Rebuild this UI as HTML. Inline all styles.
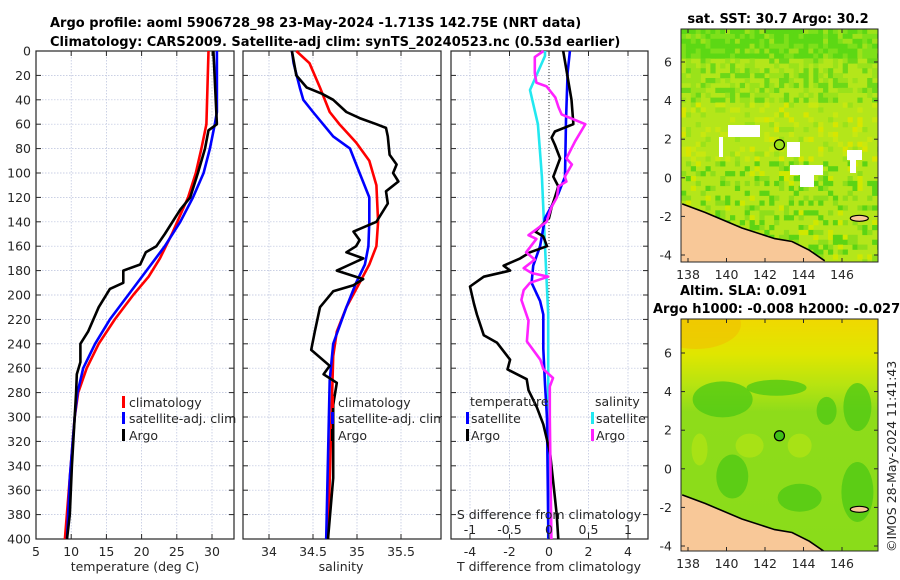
<!DOCTYPE html>
<html><head><meta charset="utf-8"><style>
html,body{margin:0;padding:0;background:#fff;}
svg{display:block;font-family:"DejaVu Sans","Liberation Sans",sans-serif;}
.tk{font-size:12.5px;fill:#262626;}
.ti{font-size:13px;font-weight:bold;fill:#000;}
</style></head><body>
<svg id="fig" width="900" height="580" viewBox="0 0 900 580">
<text class="ti" x="50" y="27">Argo profile: aoml 5906728_98 23-May-2024 -1.713S 142.75E (NRT data)</text>
<text class="ti" x="50" y="46">Climatology: CARS2009. Satellite-adj clim: synTS_20240523.nc (0.53d earlier)</text>
<text class="ti" x="778" y="23" text-anchor="middle">sat. SST: 30.7 Argo: 30.2</text>
<text class="ti" x="680" y="295">Altim. SLA: 0.091</text>
<text class="ti" x="653" y="313">Argo h1000: -0.008 h2000: -0.027</text>
<text class="tk" transform="translate(896,552) rotate(-90)">©IMOS 28-May-2024 11:41:43</text>
<g id="plots"></g>
</svg>
<script>
// ---- data ----
const depthTArgo=[0,60,65,80,100,120,130,150,160,165,175,180,190,195,210,230,240,255,265,280,300,340,380,400];
const tempArgo=[30.2,30.7,29.5,29,28,26.9,25.5,23.3,22.1,20.6,19.8,17.4,17.4,15.5,13.9,12.4,11.3,11.3,10.8,10.7,10.5,10.1,9.8,9.4];
const depthTClim=[0,60,80,100,120,150,170,185,200,220,240,260,280,300,350,400];
const tempClim=[29.5,29.2,28.5,27.7,26.6,24.3,22.6,21,18.8,16.2,13.9,12.2,11,10.5,9.8,9.1];
const depthTSat=[0,50,60,80,100,120,140,160,180,200,220,240,260,280,300,350,400];
const tempSat=[30.7,30.7,30.4,29.7,28.8,27.3,25.5,23.3,20.7,18.1,15.5,13.4,11.7,10.9,10.5,9.8,9.4];
const depthSArgo=[0,20,30,35,40,50,55,60,63,70,85,93,100,107,115,125,140,148,155,160,165,170,175,180,187,192,197,210,230,245,258,265,272,290,350,400];
const salArgo=[34.26,34.31,34.43,34.6,34.73,34.88,35.03,35.22,35.33,35.35,35.37,35.45,35.41,35.47,35.33,35.35,35.22,34.96,35.03,34.99,34.88,35.07,34.92,34.77,35.07,34.96,34.73,34.58,34.52,34.48,34.69,34.62,34.77,34.73,34.73,34.67];
const depthSClim=[0,10,30,50,60,75,90,110,140,160,175,190,210,230,250,300,400];
const salClim=[34.31,34.46,34.58,34.69,34.8,34.99,35.14,35.22,35.24,35.22,35.14,35.03,34.88,34.77,34.73,34.71,34.67];
const depthSSat=[0,10,30,40,50,70,80,100,120,140,160,175,190,210,240,270,400];
const salSat=[34.26,34.28,34.35,34.39,34.5,34.73,34.92,35.03,35.14,35.14,35.13,35.09,34.99,34.88,34.73,34.69,34.65];
const depthDTArgo=[0,40,59,60,66,71,77,88,103,111,120,128,137,148,152,160,165,170,176,180,185,193,207,216,233,239,253,261,269,278,292,306,329,366,380,400];
const dTArgo=[0.72,1.14,1.23,1.23,0.3,0.13,0.3,0.56,0.22,0.47,0.3,0.13,0,-0.7,-0.29,-0.1,-0.96,-1.46,-2.3,-1.97,-3.3,-4,-3.8,-3.65,-3.3,-2.64,-1.97,-2.1,-1.13,-1.04,-0.62,-0.29,0.05,0.3,0.39,0.47];
const depthDTSat=[0,18,57,103,117,137,160,176,190,205,216,244,273,301,400];
const dTSat=[1.06,0.94,0.86,0.81,0.47,-0.2,-0.45,-0.8,-0.88,-0.45,-0.29,-0.29,-0.2,-0.1,-0.03];
const depthDSSat=[0,4,32,60,103,160,216,400];
const dSSat=[-0.05,-0.05,-0.24,-0.14,-0.09,-0.05,-0.01,-0.01];
const depthDSArgo=[0,5,18,26,29,38,46,52,60,74,88,93,103,107,111,120,128,140,151,154,165,171,178,182,185,190,196,204,221,238,253,261,268,275,300,400];
const dSArgo=[-0.07,-0.18,-0.18,-0.16,-0.03,0.08,0.12,0.16,0.46,0.33,0.22,0.29,0.2,0.22,0.12,0.1,0.03,-0.03,-0.26,-0.16,-0.29,-0.18,-0.32,-0.22,-0.01,-0.24,-0.32,-0.35,-0.26,-0.28,-0.11,-0.07,0.05,0.01,0.01,0.03];
const depthTicks=[0,20,40,60,80,100,120,140,160,180,200,220,240,260,280,300,320,340,360,380,400];
const tempTicks=[5,10,15,20,25,30];
const salTicks=[34,34.5,35,35.5];
const dTTicks=[-4,-2,0,2,4];
const dSTicks=[-1,-0.5,0,0.5,1];
const lonTicks=[138,140,142,144,146];
const latTicks=[-4,-2,0,2,4,6];
const argoLon=142.75, argoLat=1.713;

// ---- helpers ----
const NS="http://www.w3.org/2000/svg";
const root=document.getElementById('plots');
function mk(tag,attrs,parent){const e=document.createElementNS(NS,tag);for(const k in attrs)e.setAttribute(k,attrs[k]);(parent||root).appendChild(e);return e;}
const Y0=51,Y1=539;
function yD(d){return Y0+d*(Y1-Y0)/400;}
function lin(d0,d1,r0,r1){return v=>r0+(v-d0)*(r1-r0)/(d1-d0);}
const xT=lin(5,30,36,212), xS=lin(34,35.5,269,401), xDT=lin(-4,4,470,628), xDS=lin(-1,1,470,628);
function frame(x0,x1,xs,ticks,fmt,name,labels){
  const g=mk('g',{});
  
  
  depthTicks.forEach(d=>{const l=mk('line',{x1:x0,x2:x1,y1:yD(d),y2:yD(d),stroke:'#b8c0dc','stroke-width':0.7,'stroke-dasharray':'1.5,1.5'},g);
    mk('line',{x1:x0,x2:x0+5,y1:yD(d),y2:yD(d),stroke:'#262626'},g);mk('line',{x1:x1-5,x2:x1,y1:yD(d),y2:yD(d),stroke:'#262626'},g);
    if(labels){const t=mk('text',{x:31,y:yD(d)+4.5,'text-anchor':'end',class:'tk'},g);t.textContent=d;}});
  ticks.forEach(v=>{const x=xs(v);mk('line',{x1:x,x2:x,y1:Y0,y2:Y1,stroke:'#b8c0dc','stroke-width':0.7,'stroke-dasharray':'1.5,1.5'},g);
    mk('line',{x1:x,x2:x,y1:Y1-5,y2:Y1,stroke:'#262626'},g);mk('line',{x1:x,x2:x,y1:Y0,y2:Y0+5,stroke:'#262626'},g);
    const t=mk('text',{x:x,y:Y1+17,'text-anchor':'middle',class:'tk'},g);t.textContent=fmt(v);});
  mk('rect',{x:x0,y:Y0,width:x1-x0,height:Y1-Y0,fill:'none',stroke:'#262626','stroke-width':1.2},g);
  return g;
}
function line(xs,vals,depths,color,name,w){
  const p=mk('polyline',{points:vals.map((v,i)=>xs(v).toFixed(1)+','+yD(depths[i]).toFixed(1)).join(' '),fill:'none',stroke:color,'stroke-width':w||2.6,'stroke-linejoin':'round'});
  
  
}
function text(x,y,s,name,anchor){const t=mk('text',{x:x,y:y,class:'tk','text-anchor':anchor||'start'});t.textContent=s;return t;}
function legMark(x,y,c){const r=mk('rect',{x:x,y:y-10,width:3,height:12,fill:c});}

// ---- panel 1: temperature ----
frame(36,234,xT,tempTicks,v=>v,'temperature-axes',true);
line(xT,tempClim,depthTClim,'#ff0000','temperature-climatology-line');
line(xT,tempSat,depthTSat,'#0000ff','temperature-satellite-line');
line(xT,tempArgo,depthTArgo,'#000000','temperature-argo-line');
text(135,571,'temperature (deg C)','temperature-axis-title','middle');
legMark(122,406,'#ff0000');text(129,407,'climatology','legend-climatology');
legMark(122,422,'#0000ff');text(129,423,'satellite-adj. clim','legend-satellite-adj');
legMark(122,439,'#000000');text(129,440,'Argo','legend-argo');

// ---- panel 2: salinity ----
frame(243,441,xS,salTicks,v=>v,'salinity-axes',false);
line(xS,salClim,depthSClim,'#ff0000','salinity-climatology-line');
line(xS,salSat,depthSSat,'#0000ff','salinity-satellite-line');
line(xS,salArgo,depthSArgo,'#000000','salinity-argo-line');
text(341,571,'salinity','salinity-axis-title','middle');
legMark(331,406,'#ff0000');text(338,407,'climatology','legend-climatology-2');
legMark(331,422,'#0000ff');text(338,423,'satellite-adj. clim','legend-satellite-adj-2');
legMark(331,439,'#000000');text(338,440,'Argo','legend-argo-2');

// ---- panel 3: differences ----
mk('rect',{x:442,y:Y0,width:207,height:Y1-Y0,fill:'#fff'});
frame(451,648,xDT,dTTicks,v=>v,'difference-axes',false);
mk('line',{x1:xDT(0),x2:xDT(0),y1:Y0,y2:Y1,stroke:'#333','stroke-width':1,'stroke-dasharray':'1,2'});
line(xDS,dSSat,depthDSSat,'#22e8f0','salinity-diff-satellite-line');
line(xDT,dTSat,depthDTSat,'#0000ff','temperature-diff-satellite-line');
line(xDT,dTArgo,depthDTArgo,'#000000','temperature-diff-argo-line');
line(xDS,dSArgo,depthDSArgo,'#ff22ff','salinity-diff-argo-line');
text(549,571,'T difference from climatology','t-diff-axis-title','middle');
text(549,519,'S difference from climatology','s-diff-axis-title','middle');
dSTicks.forEach(v=>{const x=xDS(v);text(x,534,String(v),'s-diff-tick-label','middle');mk('line',{x1:x,x2:x,y1:Y1-5,y2:Y1,stroke:'#262626'});});
text(470,406,'temperature','legend-temperature-header');
legMark(466,422,'#0000ff');text(471,423,'satellite','legend-t-satellite');
legMark(466,439,'#000000');text(471,440,'Argo','legend-t-argo');
text(595,406,'salinity','legend-salinity-header');
legMark(591,422,'#22e8f0');text(596,423,'satellite','legend-s-satellite');
legMark(591,439,'#ff22ff');text(596,440,'Argo','legend-s-argo');

// ---- maps ----
function hash(i,j){let h=(i*374761393+j*668265263)>>>0;h=((h^(h>>>13))*1274126177)>>>0;return (h%1000)/1000;}
function map(top,bottom,y6,name,kind){
  const x0=681,x1=878;
  const xL=lin(138,146,688,842), yL=lin(6,-4,y6,y6+193);
  const g=mk('g',{});
  
  
  const cp=mk('clipPath',{id:name+'-clip'},g);
  mk('rect',{x:x0,y:top,width:x1-x0,height:bottom-top},cp);
  const inner=mk('g',{'clip-path':'url(#'+name+'-clip)'},g);
  if(kind==='sst'){
    mk('rect',{x:x0,y:top,width:x1-x0,height:bottom-top,fill:'#b4e61a'},inner);
    const cs=4.9;
    for(let j=0;j*cs<bottom-top;j++)for(let i=0;i*cs<x1-x0;i++){
      const r=hash(i,j), f=j/48;
      let c=null;
      if(f<0.12) c=r<0.5?'#5cd814':(r<0.8?'#7ee01a':'#9ee21a');
      else if(f<0.3) c=r<0.25?'#6cd818':(r<0.55?'#9ae21a':null);
      else if(f<0.55) c=r<0.12?'#c8e810':(r<0.2?'#d8e600':(r<0.3?'#9ae21a':null));
      else c=r<0.15?'#5cd414':(r<0.3?'#8ede1a':(r<0.36?'#d0e800':null));
      if(c) mk('rect',{x:x0+i*cs,y:top+j*cs,width:cs+0.3,height:cs+0.3,fill:c},inner);
    }
    [[728,125,32,12],[719,137,4,20],[787,142,13,15],[790,165,33,10],[800,170,14,17],[847,150,15,10],[850,160,6,13]].forEach(p=>mk('rect',{x:p[0],y:p[1],width:p[2],height:p[3],fill:'#fff'},inner));
  } else {
    const lg=mk('linearGradient',{id:name+'-grad',x1:0,y1:0,x2:0,y2:1},g);
    [[0,'#f0d800'],[0.15,'#e0e600'],[0.28,'#b8e410'],[0.4,'#8edc1a'],[1,'#8adc1a']].forEach(s=>mk('stop',{offset:s[0],'stop-color':s[1]},lg));
    mk('rect',{x:x0,y:top,width:x1-x0,height:bottom-top,fill:'url(#'+name+'-grad)'},inner);
    mk('ellipse',{cx:x0+15,cy:top+5,rx:45,ry:25,fill:'#f0c000',opacity:0.6},inner);
    [[139.8,3.6,30,18],[146.8,3.2,14,24],[145.2,3,10,14],[140.3,-0.4,16,22],[146.8,-1.2,16,30],[143.8,-1.5,22,14],[142.6,4.2,30,8]].forEach(p=>mk('ellipse',{cx:xL(p[0]),cy:yL(p[1]),rx:p[2],ry:p[3],fill:'#4cc814',opacity:0.75},inner));
    [[141.2,1.2,14,12],[143.8,1.2,12,12],[138.6,1,8,16]].forEach(p=>mk('ellipse',{cx:xL(p[0]),cy:yL(p[1]),rx:p[2],ry:p[3],fill:'#b4e414',opacity:0.7},inner));
  }
  const coast=[[137.7,-1.35],[138.9,-1.8],[140.8,-2.6],[142.5,-3.15],[143.4,-3.3],[144.3,-3.75],[145.1,-4.3]];
  const pts=coast.map(p=>xL(p[0]).toFixed(1)+','+yL(p[1]).toFixed(1));
  const land=mk('polygon',{points:x0+','+yL(-1.3)+' '+pts.join(' ')+' '+xL(145.1)+','+bottom+' '+x0+','+bottom,fill:'#f8c898'},inner);
  
  
  mk('polyline',{points:pts.join(' '),fill:'none',stroke:'#000','stroke-width':1.6},inner);
  mk('ellipse',{cx:xL(146.9),cy:yL(-2.1),rx:9,ry:3,fill:'#f8c898',stroke:'#000','stroke-width':1.2},inner);
  const c=mk('circle',{cx:xL(argoLon),cy:yL(argoLat),r:5,fill:kind==='sst'?'#9be01a':'#40c018',stroke:'#000','stroke-width':1.2},g);
  
  
  mk('rect',{x:x0,y:top,width:x1-x0,height:bottom-top,fill:'none',stroke:'#262626','stroke-width':1},g);
  lonTicks.forEach(v=>{const x=xL(v);mk('line',{x1:x,x2:x,y1:bottom-4,y2:bottom,stroke:'#262626'},g);mk('line',{x1:x,x2:x,y1:top,y2:top+4,stroke:'#262626'},g);
    const t=mk('text',{x:x,y:bottom+17,'text-anchor':'middle',class:'tk'},g);t.textContent=v;});
  latTicks.forEach(v=>{const y=yL(v);mk('line',{x1:x0,x2:x0+4,y1:y,y2:y,stroke:'#262626'},g);mk('line',{x1:x1-4,x2:x1,y1:y,y2:y,stroke:'#262626'},g);
    const t=mk('text',{x:672,y:y+4.5,'text-anchor':'end',class:'tk'},g);t.textContent=v;});
}
map(29,262,62,'sst-map','sst');
map(319,551,353,'sla-map','sla');
</script>
</body></html>
